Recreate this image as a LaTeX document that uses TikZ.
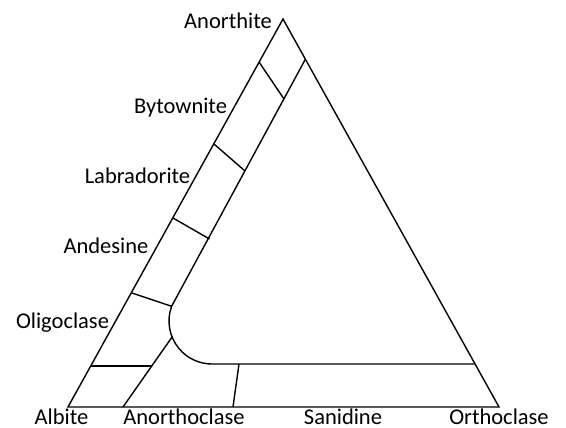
\documentclass[tikz,border=0pt]{standalone}
\usepackage{fontspec}
\setmainfont{Carlito}
\begin{document}
\begin{tikzpicture}[x=1pt,y=-1pt,
  edge/.style={line width=1.4pt,line join=miter},
  lbl/.style={anchor=base,inner sep=0pt,font=\fontsize{22.5}{27}\selectfont}]
\useasboundingbox (0,0) rectangle (566,428);
% outer triangle
\coordinate (An) at (283,19);
\coordinate (Ab) at (68,407);
\coordinate (Or) at (499,407);
\draw[edge] (Ab) -- (An) -- (Or) -- cycle;
% inner boundary with rounded corner
\coordinate (p1) at (305.5,59);
\coordinate (q) at (171.6,306.3);
\coordinate (p3) at (474.6,364);
\draw[edge] (p1) -- (q) arc[start angle=200,end angle=90,radius=43] -- (p3);
% tie lines of the plagioclase band
\coordinate (t1a) at (259,62);  \coordinate (t1b) at (284,99);
\coordinate (t2a) at (214,144); \coordinate (t2b) at (245,171);
\coordinate (t3a) at (173,218); \coordinate (t3b) at (209.5,239);
\coordinate (t4a) at (132,293);
\draw[edge] (t1a) -- (t1b);
\draw[edge] (t2a) -- (t2b);
\draw[edge] (t3a) -- (t3b);
\draw[edge] (t4a) -- (q);
% anorthoclase field
\coordinate (l1) at (123,407); \coordinate (l2) at (172.1,337);
\draw[edge] (l1) -- (l2);
\coordinate (h1) at (90.7,366); \coordinate (h2) at (151.7,366);
\draw[edge] (h1) -- (h2);
\coordinate (s1) at (239,364); \coordinate (s2) at (233,407);
\draw[edge] (s1) -- (s2);
% labels
\node[lbl] (nAn) at (228,29) {Anorthite};
\node[lbl] (nBy) at (180.5,114) {Bytownite};
\node[lbl] (nLa) at (137.5,183) {Labradorite};
\node[lbl] (nAd) at (106,254) {Andesine};
\node[lbl] (nOl) at (62.5,328) {Oligoclase};
\node[lbl] (nAb) at (61.5,424) {Albite};
\node[lbl] (nAo) at (184,424) {Anorthoclase};
\node[lbl] (nSa) at (343,424) {Sanidine};
\node[lbl] (nOr) at (499,424) {Orthoclase};
\end{tikzpicture}
\end{document}
